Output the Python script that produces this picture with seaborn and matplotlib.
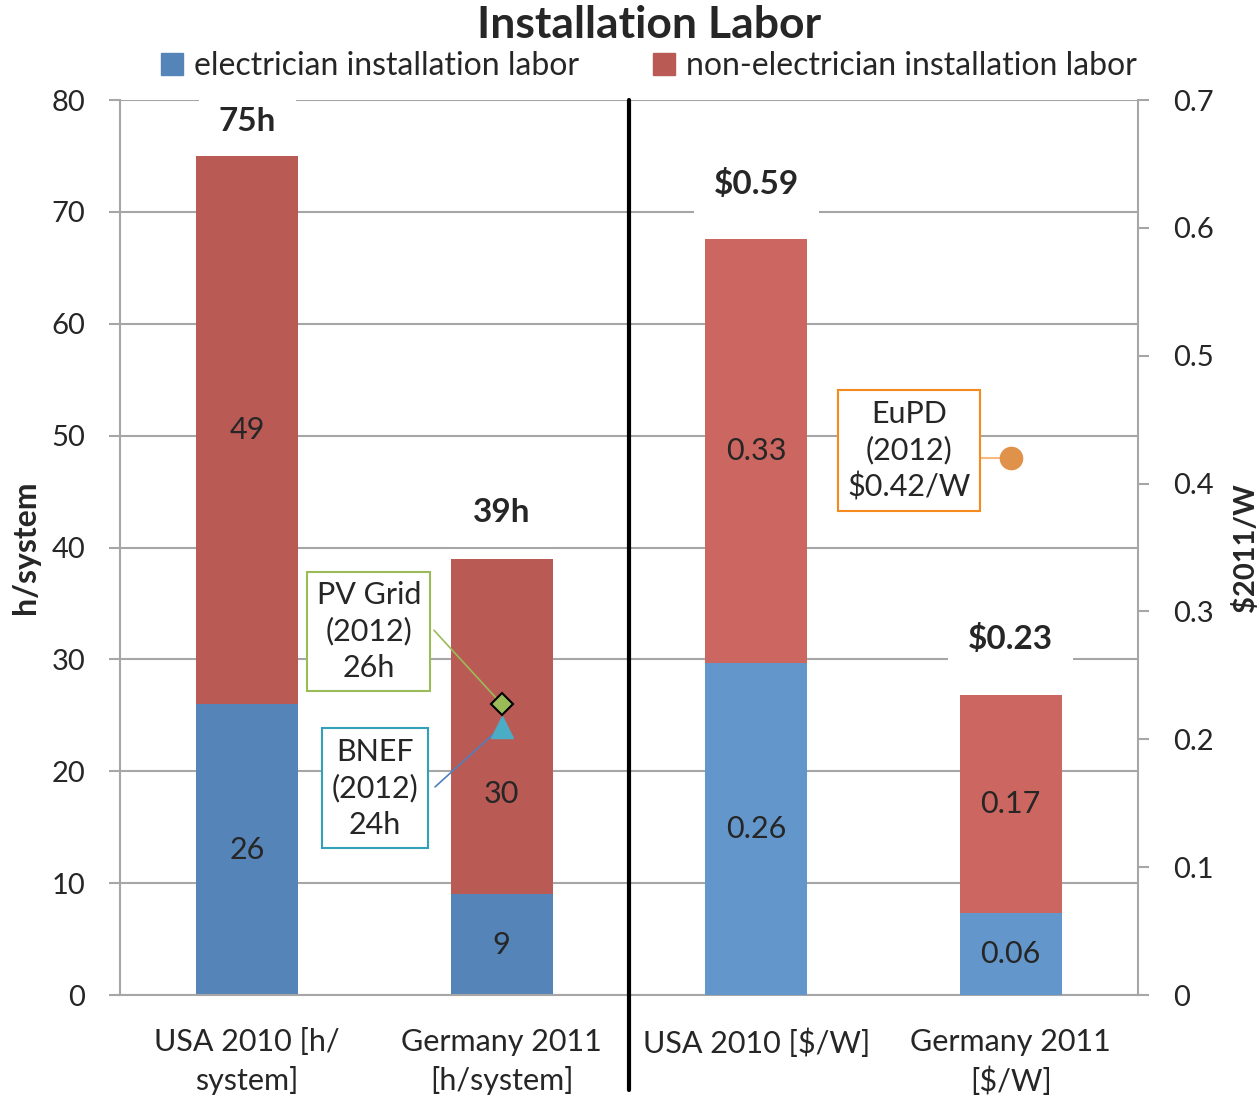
import numpy as np
import pandas as pd
import matplotlib
matplotlib.use('Agg')
import matplotlib.pyplot as plt
from matplotlib.patches import Patch
import seaborn as sns

#%% podaci
categories = ['USA 2010 [h/\nsystem]', 'Germany 2011\n[h/system]',
              'USA 2010 [\\$/W]', 'Germany 2011\n[\\$/W]']

# lijeva osa - sati po sistemu
hours_cats = categories[:2]
hours_elec = [26, 9]
hours_nonelec = [49, 30]
hours_totals = ['75h', '39h']

# desna osa - $/W
cost_cats = categories[2:]
cost_elec = [0.26, 0.064]
cost_nonelec = [0.331, 0.171]
cost_totals = ['\\$0.59', '\\$0.23']

# druge procjene
pvgrid_h = 26
bnef_h = 24
eupd_cost = 0.42

legend_labels = ['electrician installation labor', 'non-electrician installation labor']

#%% stil
sns.set_style('white')
plt.rcParams['font.family'] = ['Lato', 'DejaVu Sans']

blue_l, red_l = '#5585B8', '#B95A55'
blue_r, red_r = '#6397CB', '#CC6660'
grey = '#A6A6A6'
fs = 22

fig, ax = plt.subplots(figsize=(12.6, 10.98), dpi=100)
fig.subplots_adjust(left=0.0952, right=0.9032, bottom=0.0938, top=0.9089)
ax2 = ax.twinx()

df_h = pd.DataFrame({'cat': hours_cats, 'elec': hours_elec, 'non': hours_nonelec})
df_h['total'] = df_h['elec'] + df_h['non']
df_c = pd.DataFrame({'cat': cost_cats, 'elec': cost_elec, 'non': cost_nonelec})
df_c['total'] = df_c['elec'] + df_c['non']

# stacked bars: ukupno (crveno) pa plavo preko
sns.barplot(data=df_h, x='cat', y='total', order=categories, color=red_l,
            saturation=1, width=0.4, linewidth=0, ax=ax)
sns.barplot(data=df_h, x='cat', y='elec', order=categories, color=blue_l,
            saturation=1, width=0.4, linewidth=0, ax=ax)
sns.barplot(data=df_c, x='cat', y='total', order=categories, color=red_r,
            saturation=1, width=0.4, linewidth=0, ax=ax2)
sns.barplot(data=df_c, x='cat', y='elec', order=categories, color=blue_r,
            saturation=1, width=0.4, linewidth=0, ax=ax2)

# vrijednosti u segmentima (labela "30" je u originalu pomjerena nize, ispod markera)
non_label_shift = [0, -6]
for i, (e, n) in enumerate(zip(hours_elec, hours_nonelec)):
    ax.text(i, e / 2, f'{e}', ha='center', va='center', fontsize=fs)
    ax.text(i, e + n / 2 + non_label_shift[i], f'{n}', ha='center', va='center', fontsize=fs)
    ax.annotate(hours_totals[i], xy=(i, e + n), xytext=(0, [25, 33][i]), textcoords='offset points',
                ha='center', va='center', fontsize=24, fontweight='bold',
                bbox=dict(boxstyle='square,pad=0.6', fc='white', ec='none'))
for j, (e, n) in enumerate(zip(cost_elec, cost_nonelec)):
    i = j + 2
    ax2.text(i, e / 2, f'{e:.2f}', ha='center', va='center', fontsize=fs)
    ax2.text(i, e + n / 2, f'{n:.2f}', ha='center', va='center', fontsize=fs)
    ax2.annotate(cost_totals[j], xy=(i, e + n), xytext=(0, 40), textcoords='offset points',
                 ha='center', va='center', fontsize=24, fontweight='bold',
                 bbox=dict(boxstyle='square,pad=0.6', fc='white', ec='none'))

# druge procjene - markeri i okviri
ax.annotate('', xy=(1, bnef_h), xytext=(0.738, 18.6),
            arrowprops=dict(arrowstyle='-', color='#4F81BD', lw=1.2, shrinkA=0, shrinkB=0))
ax.annotate('', xy=(1, pvgrid_h), xytext=(0.734, 32.6),
            arrowprops=dict(arrowstyle='-', color='#9BBB59', lw=1.2, shrinkA=0, shrinkB=0))
ax.plot(1, bnef_h, marker='^', ms=16, mfc='#4BACC6', mec='#4BACC6', ls='none', zorder=5)
ax.plot(1, pvgrid_h, marker='D', ms=11, mfc='#9BBB59', mec='black', mew=1.5, ls='none', zorder=6)
ax.text(0.478, 32.5, 'PV Grid\n(2012)\n26h', ha='center', va='center', fontsize=fs,
        linespacing=1.35, bbox=dict(boxstyle='square,pad=0.3', fc='white', ec='#9BBB59', lw=1.5))
ax.text(0.502, 18.5, 'BNEF\n(2012)\n24h', ha='center', va='center', fontsize=fs,
        linespacing=1.35, bbox=dict(boxstyle='square,pad=0.3', fc='white', ec='#31A0B8', lw=1.5))

ax2.annotate('', xy=(3, eupd_cost), xytext=(2.87, eupd_cost),
             arrowprops=dict(arrowstyle='-', color='#F8B880', lw=1.5, shrinkA=0, shrinkB=0))
ax2.plot(3, eupd_cost, marker='o', ms=16, mfc='#E0924A', mec='#E0924A', ls='none', zorder=5)
ax2.text(2.6, 0.4257, 'EuPD\n(2012)\n\\$0.42/W', ha='center', va='center', fontsize=fs,
         linespacing=1.35, bbox=dict(boxstyle='square,pad=0.3', fc='white', ec='#F58A1F', lw=1.5))

# ose
ax.set_xlim(-0.5, 3.5)
ax.set_ylim(0, 80)
ax.set_yticks(range(0, 81, 10))
ax2.set_ylim(0, 0.7)
r_ticks = np.arange(0, 0.71, 0.1)
ax2.set_yticks(r_ticks)
ax2.set_yticklabels(['0'] + [f'{t:.1f}' for t in r_ticks[1:]])

ax.yaxis.grid(True, color=grey, lw=1.5)
ax.set_axisbelow(True)

ax.set_xticks(range(4))
ax.set_xticklabels(categories, linespacing=1.4)
ax.set_xticks([-0.5, 0.5, 1.5, 2.5, 3.5], minor=True)
ax.tick_params(axis='x', which='major', length=0, labelsize=fs, pad=24)
ax.tick_params(axis='x', which='minor', length=8, width=1.5, color=grey, direction='out')
ax.tick_params(axis='y', length=8, width=1.5, color=grey, direction='out', labelsize=21, pad=17, left=True)
ax2.tick_params(axis='y', length=8, width=1.5, color=grey, direction='out', labelsize=21, pad=17, right=True)
ax2.tick_params(axis='x', length=0)

for s in ['top', 'right']:
    ax.spines[s].set_visible(False)
for s in ['left', 'bottom']:
    ax.spines[s].set_color(grey)
    ax.spines[s].set_linewidth(1.5)
for s in ['top', 'left', 'bottom']:
    ax2.spines[s].set_visible(False)
ax2.spines['right'].set_color(grey)
ax2.spines['right'].set_linewidth(1.5)

ax.set_xlabel('')
ax2.set_xlabel('')
ax.set_ylabel('h/system', fontsize=23, fontweight='bold')
ax.yaxis.set_label_coords(-0.0786, 0.5)
ax2.set_ylabel('\\$2011/W', fontsize=21, fontweight='bold', rotation=90)
ax2.yaxis.set_label_coords(1.0925, 0.5)

# razdjelna linija
ax2.axvline(1.5, ymin=-0.106, ymax=1, color='black', lw=3, clip_on=False, zorder=10)

fig.text(0.515, 0.977, 'Installation Labor', ha='center', va='center',
         fontsize=32, fontweight='bold')
handles = [Patch(color=blue_l, label=legend_labels[0]), Patch(color=red_l, label=legend_labels[1])]
fig.legend(handles=handles, loc='center', bbox_to_anchor=(0.515, 0.94), ncol=2, frameon=False,
           fontsize=23, handlelength=0.7, handleheight=0.7, handletextpad=0.35, columnspacing=2.3,
           borderaxespad=0)

plt.savefig('out.png', dpi=100)
